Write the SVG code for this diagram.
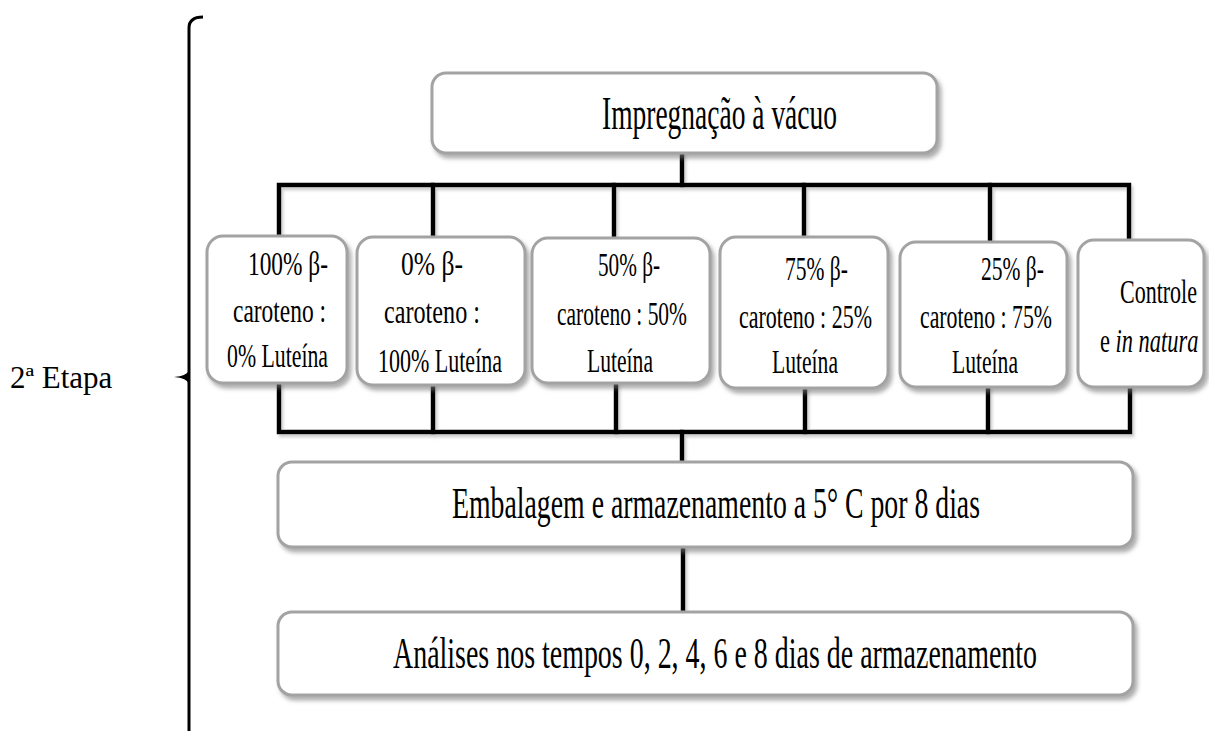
<svg xmlns="http://www.w3.org/2000/svg" width="1209" height="731" viewBox="0 0 1209 731">
<defs>
<filter id="sh" x="-10%" y="-10%" width="120%" height="130%">
<feDropShadow dx="3" dy="4" stdDeviation="2" flood-color="#777" flood-opacity="0.6"/>
</filter>
<filter id="lsh" filterUnits="userSpaceOnUse" x="0" y="0" width="1209" height="731">
<feDropShadow dx="2" dy="3" stdDeviation="1.5" flood-color="#999" flood-opacity="0.5"/>
</filter>
</defs>
<style>
.box{fill:#fff;stroke:#a3a3a3;stroke-width:3;filter:url(#sh)}
.line{fill:none;stroke:#000;stroke-width:4.5;stroke-linecap:square}
</style>
<rect width="1209" height="731" fill="#fff"/>

<g id="brace">
<path d="M203,17 Q189,17 189,28 L189,731" fill="none" stroke="#000" stroke-width="3"/>
<path d="M189,370 Q187,376 174,377 Q187,378 189,384 Z" fill="#000"/>
<text x="10" y="388" font-family="'Liberation Serif', 'DejaVu Serif', serif" font-size="31" fill="#000">2ª Etapa</text>
</g>

<g id="connectors" filter="url(#lsh)">
<path class="line" d="M682,153 V185"/>
<path class="line" d="M279,236 V185 H1129 V240"/>
<path class="line" d="M433,185 V237"/>
<path class="line" d="M614,185 V238"/>
<path class="line" d="M804,185 V237"/>
<path class="line" d="M990,185 V242"/>
<path class="line" d="M279,383 V432 H1130 V387"/>
<path class="line" d="M433,385 V432"/>
<path class="line" d="M616,383 V432"/>
<path class="line" d="M805,388 V432"/>
<path class="line" d="M988,387 V432"/>
<path class="line" d="M682,432 V462"/>
<path class="line" d="M683,547 V612"/>
</g>

<g font-family="'Liberation Serif', 'DejaVu Serif', serif" fill="#000">
<g id="impregnacao">
<rect class="box" x="432" y="73" width="505" height="80" rx="14"/>
<text x="602" y="129" font-size="47" textLength="235" lengthAdjust="spacingAndGlyphs">Impregnação à vácuo</text>
</g>

<g id="n100" font-size="33">
<rect class="box" x="207" y="236" width="140" height="147" rx="16"/>
<text x="248" y="275" textLength="80" lengthAdjust="spacingAndGlyphs">100% β-</text>
<text x="233" y="322" textLength="93" lengthAdjust="spacingAndGlyphs">caroteno :</text>
<text x="227" y="367" textLength="101" lengthAdjust="spacingAndGlyphs">0% Luteína</text>
</g>

<g id="n0" font-size="33">
<rect class="box" x="357" y="237" width="168" height="148" rx="16"/>
<text x="401" y="275" textLength="62" lengthAdjust="spacingAndGlyphs">0% β-</text>
<text x="384" y="323" textLength="96" lengthAdjust="spacingAndGlyphs">caroteno :</text>
<text x="378" y="372" textLength="124" lengthAdjust="spacingAndGlyphs">100% Luteína</text>
</g>

<g id="n50" font-size="33">
<rect class="box" x="532" y="238" width="178" height="145" rx="16"/>
<text x="598" y="276" textLength="62" lengthAdjust="spacingAndGlyphs">50% β-</text>
<text x="557" y="325" textLength="130" lengthAdjust="spacingAndGlyphs">caroteno : 50%</text>
<text x="587" y="372" textLength="66" lengthAdjust="spacingAndGlyphs">Luteína</text>
</g>

<g id="n75" font-size="33">
<rect class="box" x="720" y="237" width="168" height="151" rx="16"/>
<text x="785" y="280" textLength="63" lengthAdjust="spacingAndGlyphs">75% β-</text>
<text x="739" y="328" textLength="133" lengthAdjust="spacingAndGlyphs">caroteno : 25%</text>
<text x="772" y="373" textLength="66" lengthAdjust="spacingAndGlyphs">Luteína</text>
</g>

<g id="n25" font-size="33">
<rect class="box" x="900" y="242" width="167" height="145" rx="16"/>
<text x="981" y="280" textLength="63" lengthAdjust="spacingAndGlyphs">25% β-</text>
<text x="920" y="328" textLength="132" lengthAdjust="spacingAndGlyphs">caroteno : 75%</text>
<text x="952" y="373" textLength="66" lengthAdjust="spacingAndGlyphs">Luteína</text>
</g>

<g id="controle" font-size="33">
<rect class="box" x="1078" y="240" width="126" height="147" rx="16"/>
<text x="1120" y="303" textLength="77" lengthAdjust="spacingAndGlyphs">Controle</text>
<text transform="translate(1100,352) scale(0.68,1)" x="0" y="0">e <tspan font-style="italic">in natura</tspan></text>
</g>

<g id="embalagem">
<rect class="box" x="278" y="462" width="855" height="85" rx="14"/>
<text x="452" y="518" font-size="45" textLength="528" lengthAdjust="spacingAndGlyphs">Embalagem e armazenamento a 5° C por 8 dias</text>
</g>

<g id="analises">
<rect class="box" x="278" y="612" width="855" height="83" rx="14"/>
<text x="393" y="668" font-size="45" textLength="644" lengthAdjust="spacingAndGlyphs">Análises nos tempos 0, 2, 4, 6 e 8 dias de armazenamento</text>
</g>
</g>
</svg>
